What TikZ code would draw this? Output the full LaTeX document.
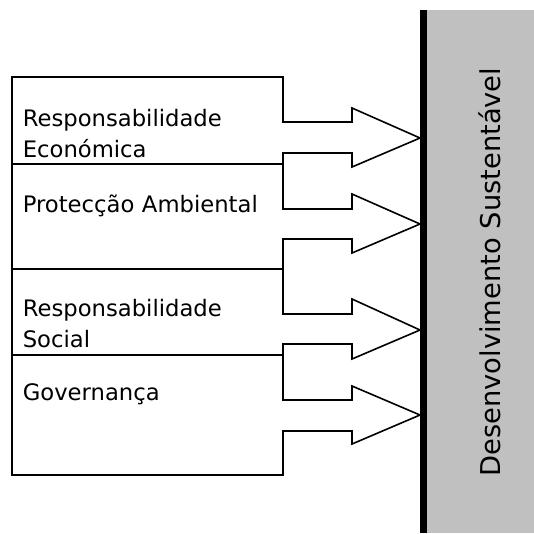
\documentclass[tikz,border=0pt]{standalone}
\usepackage{fontspec}
\setmainfont{DejaVu Sans}
\definecolor{pillargray}{RGB}{192,192,192}
\begin{document}
\begin{tikzpicture}[x=1pt, y=-1pt, line width=1.6pt,
	lbl/.style={anchor=base west, inner sep=0pt, text width=250pt, align=left,
		font=\fontsize{22.7}{31}\selectfont}]
	\useasboundingbox (0,0) rectangle (534,533);
	% pillar
	\fill[pillargray] (427,10) rectangle (534,533);
	\fill[black] (420,10) rectangle (427,533);
	\node (ds) at (500,272) [anchor=base, rotate=90, inner sep=0pt,
		font=\fontsize{27.3}{32}\selectfont] {Desenvolvimento Sustentável};
	% blocks with their arrows
	\draw (12,77) -- (283,77) -- (283,122) -- (352,122) -- (352,108) -- (420,138) -- (352,167) -- (352,153) -- (283,153)
		-- (283,209) -- (352,209) -- (352,194) -- (420,224) -- (352,253) -- (352,239) -- (283,239)
		-- (283,314) -- (352,314) -- (352,299) -- (420,330) -- (352,359) -- (352,344) -- (283,344)
		-- (283,400) -- (352,400) -- (352,386) -- (420,415) -- (352,444) -- (352,431) -- (283,431)
		-- (283,475) -- (12,475) -- cycle;
	\draw (12,164) -- (283,164);
	\draw (12,269) -- (283,269);
	\draw (12,355) -- (283,355);
	% labels
	\node (re) at (22,126) [lbl] {Responsabilidade\\Económica};
	\node (pa) at (22,212) [lbl] {Protecção Ambiental};
	\node (rs) at (22,316) [lbl] {Responsabilidade\\Social};
	\node (gv) at (22,400) [lbl] {Governança};
\end{tikzpicture}
\end{document}
